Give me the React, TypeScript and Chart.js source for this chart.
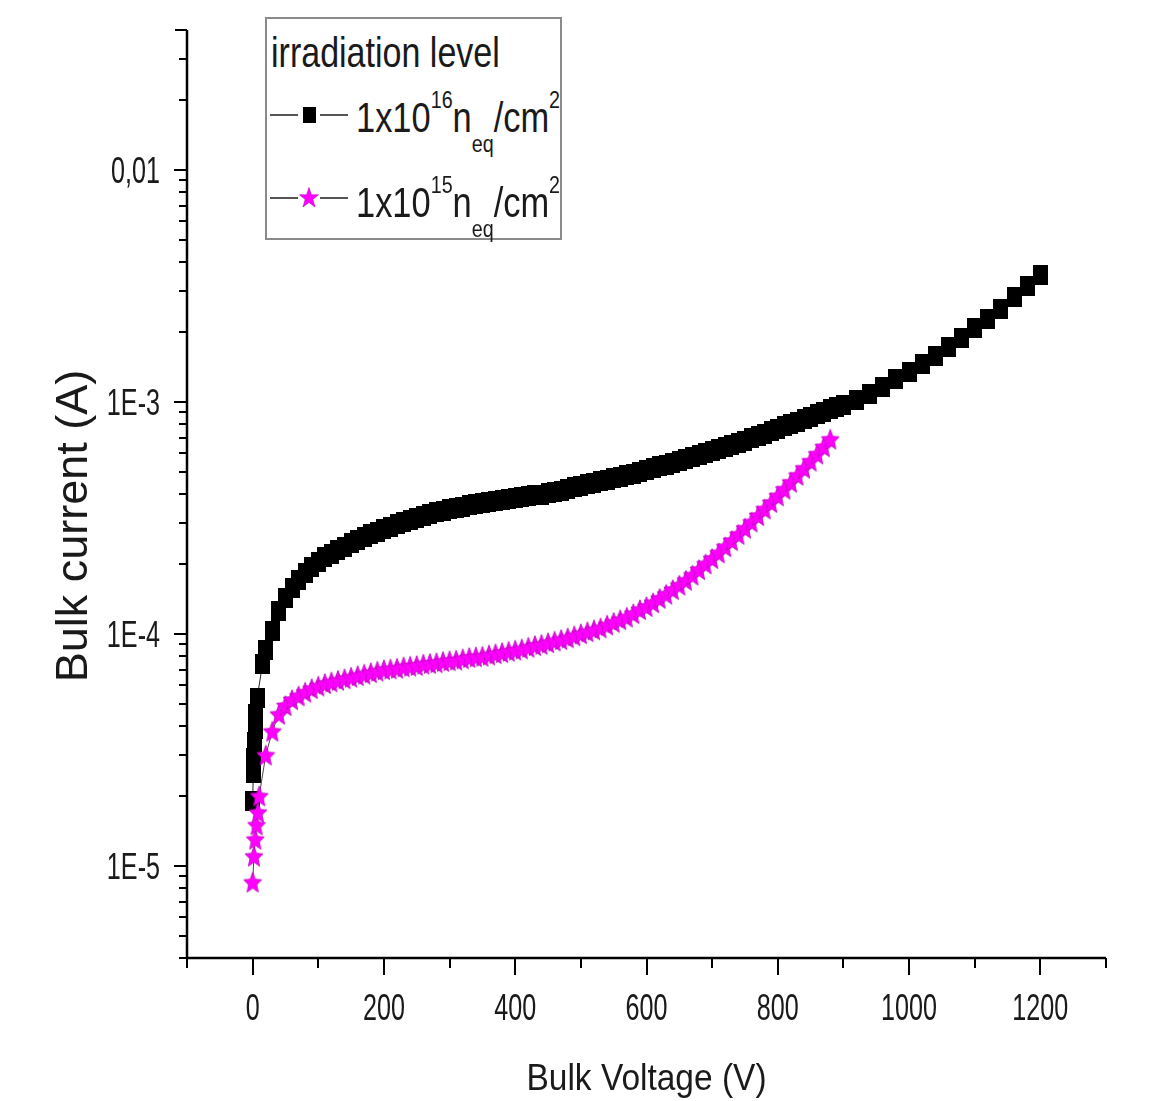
import React, { useEffect, useRef } from 'react';
import { Chart, registerables } from 'chart.js';

Chart.register(...registerables);

// ---- data ----
const BLACK_V = [
  0, 1, 2, 3, 4, 5, 7, 15, 20, 30, 40, 50, 60, 70, 80, 90, 100, 110, 120, 130, 140, 150, 160, 170, 180, 190,
  200, 210, 220, 230, 240, 250, 260, 270, 280, 290, 300, 310, 320, 330, 340, 350, 360, 370, 380, 390,
  400, 410, 420, 430, 440, 450, 460, 470, 480, 490, 500, 510, 520, 530, 540, 550, 560, 570, 580, 590,
  600, 610, 620, 630, 640, 650, 660, 670, 680, 690, 700, 710, 720, 730, 740, 750, 760, 770, 780, 790,
  800, 810, 820, 830, 840, 850, 860, 870, 880, 890, 900, 920, 940, 960, 980, 1000, 1020, 1040, 1060,
  1080, 1100, 1120, 1140, 1160, 1180, 1200,
];
const BLACK_I = [
  1.9e-5, 2.5e-5, 2.9e-5, 3.4e-5, 3.9e-5, 4.5e-5, 5.3e-5, 7.4e-5, 8.5e-5, 1.03e-4, 1.25e-4, 1.42e-4, 1.57e-4,
  1.70e-4, 1.82e-4, 1.94e-4, 2.04e-4, 2.13e-4, 2.21e-4, 2.29e-4, 2.37e-4, 2.45e-4, 2.53e-4, 2.61e-4, 2.68e-4,
  2.75e-4, 2.82e-4, 2.89e-4, 2.96e-4, 3.03e-4, 3.09e-4, 3.15e-4, 3.21e-4, 3.27e-4, 3.33e-4, 3.39e-4, 3.45e-4,
  3.49e-4, 3.53e-4, 3.57e-4, 3.61e-4, 3.65e-4, 3.69e-4, 3.73e-4, 3.77e-4, 3.81e-4, 3.85e-4, 3.88e-4, 3.92e-4,
  3.95e-4, 3.98e-4, 4.02e-4, 4.08e-4, 4.14e-4, 4.21e-4, 4.27e-4, 4.34e-4, 4.40e-4, 4.47e-4, 4.54e-4, 4.61e-4,
  4.68e-4, 4.75e-4, 4.83e-4, 4.90e-4, 4.98e-4, 5.06e-4, 5.16e-4, 5.26e-4, 5.36e-4, 5.46e-4, 5.57e-4, 5.67e-4,
  5.78e-4, 5.89e-4, 6.01e-4, 6.12e-4, 6.24e-4, 6.36e-4, 6.49e-4, 6.62e-4, 6.78e-4, 6.94e-4, 7.10e-4, 7.27e-4,
  7.45e-4, 7.63e-4, 7.82e-4, 8.01e-4, 8.21e-4, 8.41e-4, 8.62e-4, 8.83e-4, 9.05e-4, 9.27e-4, 9.48e-4, 9.70e-4,
  1.02e-3, 1.08e-3, 1.16e-3, 1.25e-3, 1.34e-3, 1.45e-3, 1.58e-3, 1.72e-3, 1.88e-3, 2.07e-3, 2.27e-3, 2.52e-3,
  2.82e-3, 3.15e-3, 3.50e-3,
];
const PINK_V = [
  0, 2, 4, 6, 8, 10, 20, 30, 40, 50, 60, 70, 80, 90, 100, 110, 120, 130, 140, 150, 160, 170, 180, 190,
  200, 210, 220, 230, 240, 250, 260, 270, 280, 290, 300, 310, 320, 330, 340, 350, 360, 370, 380, 390,
  400, 410, 420, 430, 440, 450, 460, 470, 480, 490, 500, 510, 520, 530, 540, 550, 560, 570, 580, 590,
  600, 610, 620, 630, 640, 650, 660, 670, 680, 690, 700, 710, 720, 730, 740, 750, 760, 770, 780, 790,
  800, 810, 820, 830, 840, 850, 860, 870, 880,
];
const PINK_I = [
  8.5e-6, 1.1e-5, 1.3e-5, 1.5e-5, 1.7e-5, 2.0e-5, 3.0e-5, 3.8e-5, 4.5e-5, 4.9e-5, 5.2e-5, 5.4e-5, 5.6e-5,
  5.8e-5, 5.95e-5, 6.1e-5, 6.2e-5, 6.3e-5, 6.4e-5, 6.5e-5, 6.6e-5, 6.7e-5, 6.8e-5, 6.9e-5, 7.0e-5, 7.05e-5,
  7.1e-5, 7.2e-5, 7.25e-5, 7.3e-5, 7.4e-5, 7.45e-5, 7.5e-5, 7.6e-5, 7.65e-5, 7.7e-5, 7.8e-5, 7.9e-5, 7.95e-5,
  8.0e-5, 8.1e-5, 8.2e-5, 8.3e-5, 8.4e-5, 8.5e-5, 8.6e-5, 8.75e-5, 8.9e-5, 9.0e-5, 9.15e-5, 9.3e-5, 9.45e-5,
  9.6e-5, 9.8e-5, 1.0e-4, 1.02e-4, 1.04e-4, 1.06e-4, 1.09e-4, 1.12e-4, 1.15e-4, 1.18e-4, 1.22e-4, 1.27e-4,
  1.31e-4, 1.36e-4, 1.42e-4, 1.48e-4, 1.55e-4, 1.62e-4, 1.70e-4, 1.79e-4, 1.89e-4, 2.00e-4, 2.11e-4, 2.23e-4,
  2.37e-4, 2.52e-4, 2.68e-4, 2.85e-4, 3.03e-4, 3.23e-4, 3.45e-4, 3.68e-4, 3.93e-4, 4.20e-4, 4.50e-4, 4.82e-4,
  5.17e-4, 5.55e-4, 5.95e-4, 6.40e-4, 6.90e-4,
];

const X_MIN = -100;
const X_MAX = 1300;
const X_TICKS = [0, 200, 400, 600, 800, 1000, 1200];
const X_TICK_LABELS = ['0', '200', '400', '600', '800', '1000', '1200'];
const Y_MIN = 4e-6;
const Y_MAX = 0.04;
const Y_TICKS = [1e-5, 1e-4, 1e-3, 1e-2];
const Y_TICK_LABELS = ['1E-5', '1E-4', '1E-3', '0,01'];
const X_TITLE = 'Bulk Voltage (V)';
const Y_TITLE = 'Bulk current (A)';
const LEGEND_TITLE = 'irradiation level';
const SERIES_NAMES = ['1x10^16 neq/cm2', '1x10^15 neq/cm2'];

const SANS = "'Liberation Sans', Arial, Helvetica, sans-serif";
const MAGENTA = '#ff00ff';
const TEXT = '#1a1a1a';

function makeStarImage(w: number, h: number, fill: string, stroke: string) {
  const c = document.createElement('canvas');
  c.width = w;
  c.height = h;
  const g = c.getContext('2d')!;
  g.scale(1, h / w);
  const cx = w / 2;
  const cy = w / 2 + w * 0.05;
  const R = w / 2 - 0.5;
  const r = R * 0.45;
  g.beginPath();
  for (let i = 0; i < 10; i++) {
    const rad = i % 2 === 0 ? R : r;
    const a = -Math.PI / 2 + (i * Math.PI) / 5;
    const px = cx + rad * Math.cos(a);
    const py = cy + rad * Math.sin(a);
    if (i === 0) g.moveTo(px, py);
    else g.lineTo(px, py);
  }
  g.closePath();
  g.fillStyle = fill;
  g.fill();
  g.strokeStyle = stroke;
  g.lineWidth = 0.8;
  g.stroke();
  return c;
}

function makeRectImage(w: number, h: number, fill: string) {
  const c = document.createElement('canvas');
  c.width = w;
  c.height = h;
  const g = c.getContext('2d')!;
  g.fillStyle = fill;
  g.fillRect(0, 0, w, h);
  return c;
}

// condensed text helper (the original figure's lettering is tall and narrow)
function drawText(ctx: CanvasRenderingContext2D, text: string, x: number, y: number, size: number, sx: number, align: CanvasTextAlign, rot = 0) {
  ctx.save();
  ctx.translate(x, y);
  if (rot) ctx.rotate(rot);
  ctx.scale(sx, 1);
  ctx.font = `${size}px ${SANS}`;
  ctx.fillStyle = TEXT;
  ctx.textAlign = align;
  ctx.textBaseline = 'alphabetic';
  ctx.fillText(text, 0, 0);
  ctx.restore();
}

const axesPlugin = {
  id: 'originAxes',
  afterDraw(chart: any) {
    const { ctx, chartArea } = chart;
    const { left, right, top, bottom } = chartArea;
    const x = chart.scales.x;
    const y = chart.scales.y;
    ctx.save();
    ctx.strokeStyle = '#000';
    ctx.lineWidth = 2.5;
    ctx.beginPath();
    ctx.moveTo(left, top);
    ctx.lineTo(left, bottom);
    ctx.lineTo(right, bottom);
    ctx.stroke();

    ctx.lineWidth = 2;
    ctx.beginPath();
    for (let v = X_MIN; v <= X_MAX; v += 100) {
      const px = Math.round(x.getPixelForValue(v));
      const major = X_TICKS.includes(v);
      ctx.moveTo(px, bottom);
      ctx.lineTo(px, bottom + (major ? 17 : 10));
    }
    const d0 = Math.floor(Math.log10(Y_MIN));
    const d1 = Math.ceil(Math.log10(Y_MAX));
    for (let d = d0; d <= d1; d++) {
      for (let m = 1; m <= 9; m++) {
        const v = m * Math.pow(10, d);
        if (v < Y_MIN * 0.999 || v > Y_MAX * 1.001) continue;
        const py = Math.round(y.getPixelForValue(v));
        const len = m === 1 ? 13 : v >= Y_MAX * 0.999 ? 12 : 8;
        ctx.moveTo(left, py);
        ctx.lineTo(left - len, py);
      }
    }
    ctx.stroke();
    ctx.restore();

    // tick labels
    X_TICKS.forEach((v, i) => {
      drawText(ctx, X_TICK_LABELS[i], x.getPixelForValue(v), bottom + 62, 37, 0.68, 'center');
    });
    Y_TICKS.forEach((v, i) => {
      drawText(ctx, Y_TICK_LABELS[i], left - 27, y.getPixelForValue(v) + 13, 37, 0.68, 'right');
    });

    // axis titles
    drawText(ctx, X_TITLE, (left + right) / 2, 1090, 36, 0.93, 'center');
    drawText(ctx, Y_TITLE, 87, 526, 45, 1, 'center', -Math.PI / 2);
  },
};

function LegendSymbol({ kind }: { kind: 'square' | 'star' }) {
  return (
    <svg width={80} height={24} style={{ position: 'absolute', left: 3 }} viewBox="0 0 80 24">
      <line x1={0} y1={12} x2={28} y2={12} stroke="#555" strokeWidth={2} />
      <line x1={50} y1={12} x2={78} y2={12} stroke="#555" strokeWidth={2} />
      {kind === 'square' ? (
        <rect x={33} y={4} width={13} height={16} fill="#000" />
      ) : (
        <polygon
          points="39,1.5 41.4,8.8 48.5,8.8 42.8,13.4 45,21 39,16.4 33,21 35.2,13.4 29.5,8.8 36.6,8.8"
          fill={MAGENTA}
          stroke="#c000c0"
          strokeWidth={0.6}
        />
      )}
    </svg>
  );
}

function LegendText({ exp }: { exp: string }) {
  const sup: React.CSSProperties = { fontSize: 24, verticalAlign: '24px', lineHeight: 0 };
  const sub: React.CSSProperties = { fontSize: 24, verticalAlign: '-20px', lineHeight: 0 };
  return (
    <span>
      1x10<span style={sup}>{exp}</span>n<span style={sub}>eq</span>/cm<span style={sup}>2</span>
    </span>
  );
}

export default function App() {
  const canvasRef = useRef<HTMLCanvasElement | null>(null);

  useEffect(() => {
    const canvas = canvasRef.current;
    if (!canvas) return;
    const star = makeStarImage(20, 23, MAGENTA, '#c000c0');
    const square = makeRectImage(15, 20, '#000');
    const chart = new Chart(canvas, {
      type: 'scatter',
      data: {
        datasets: [
          {
            label: SERIES_NAMES[1],
            data: PINK_V.map((v, i) => ({ x: v, y: PINK_I[i] })),
            showLine: true,
            borderColor: '#444',
            borderWidth: 1,
            pointStyle: star as any,
            pointRadius: 10,
            backgroundColor: MAGENTA,
            order: 0,
          },
          {
            label: SERIES_NAMES[0],
            data: BLACK_V.map((v, i) => ({ x: v, y: BLACK_I[i] })),
            showLine: true,
            borderColor: '#222',
            borderWidth: 1,
            pointStyle: square as any,
            pointRadius: 10,
            backgroundColor: '#000',
            order: 1,
          },
        ],
      },
      options: {
        responsive: false,
        devicePixelRatio: 1,
        animation: false,
        events: [],
        layout: { padding: { top: 30, right: 43, left: 0, bottom: 0 } },
        plugins: { legend: { display: false }, tooltip: { enabled: false } },
        scales: {
          x: {
            type: 'linear',
            min: X_MIN,
            max: X_MAX,
            grid: { display: false, drawTicks: false },
            border: { display: false },
            afterBuildTicks: (s: any) => {
              s.ticks = X_TICKS.map((v) => ({ value: v }));
            },
            afterFit: (s: any) => {
              s.height = 143;
            },
            ticks: { display: false },
            title: { display: false, text: X_TITLE },
          },
          y: {
            type: 'logarithmic',
            min: Y_MIN,
            max: Y_MAX,
            grid: { display: false, drawTicks: false },
            border: { display: false },
            afterBuildTicks: (s: any) => {
              s.ticks = Y_TICKS.map((v) => ({ value: v }));
            },
            afterFit: (s: any) => {
              s.width = 187;
            },
            ticks: { display: false },
            title: { display: false, text: Y_TITLE },
          },
        },
      },
      plugins: [axesPlugin],
    });
    return () => chart.destroy();
  }, []);

  const condensed: React.CSSProperties = {
    position: 'absolute',
    transform: 'scaleX(0.82)',
    transformOrigin: '0 0',
  };

  return (
    <div style={{ position: 'absolute', left: 0, top: 0, width: 1149, height: 1101, background: '#fff' }}>
      <canvas ref={canvasRef} width={1149} height={1101} style={{ display: 'block', width: 1149, height: 1101 }} />
      <div
        style={{
          position: 'absolute',
          left: 265,
          top: 17,
          width: 297,
          height: 223,
          border: '2px solid #8a8a8a',
          boxSizing: 'border-box',
          background: '#fff',
          fontFamily: SANS,
          color: TEXT,
          fontSize: 42,
          lineHeight: '42px',
          whiteSpace: 'nowrap',
        }}
      >
        <div style={{ ...condensed, left: 4, top: 13, transform: 'scaleX(0.81)' }}>{LEGEND_TITLE}</div>
        <div style={{ position: 'absolute', left: 0, top: 84, width: 90, height: 24 }}>
          <LegendSymbol kind="square" />
        </div>
        <div style={{ ...condensed, left: 89, top: 78 }}>
          <LegendText exp="16" />
        </div>
        <div style={{ position: 'absolute', left: 0, top: 167, width: 90, height: 24 }}>
          <LegendSymbol kind="star" />
        </div>
        <div style={{ ...condensed, left: 89, top: 163 }}>
          <LegendText exp="15" />
        </div>
      </div>
    </div>
  );
}
